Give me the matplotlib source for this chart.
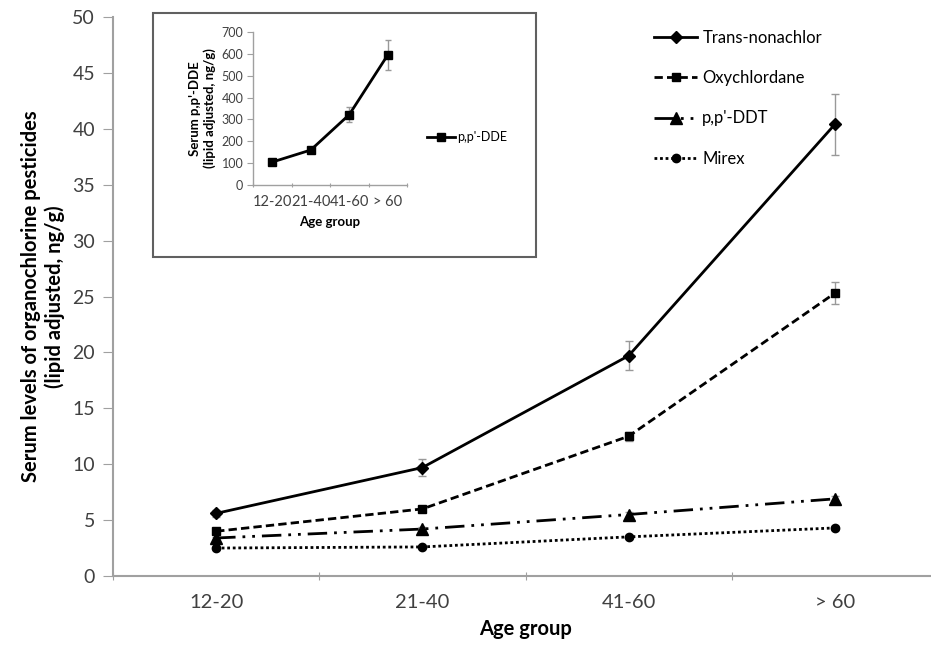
import matplotlib
matplotlib.use("Agg")
import matplotlib.pyplot as plt
from matplotlib.patches import Rectangle

plt.rcParams["font.family"] = ["Lato", "DejaVu Sans"]

# data
age_groups = ["12-20", "21-40", "41-60", "> 60"]

trans_nonachlor = [5.6, 9.7, 19.7, 40.4]
trans_nonachlor_err = [0.3, 0.8, 1.3, 2.7]
oxychlordane = [4.0, 6.0, 12.5, 25.3]
oxychlordane_err = [0.2, 0.3, 0.4, 1.0]
pp_ddt = [3.4, 4.2, 5.5, 6.9]
pp_ddt_err = [0.1, 0.2, 0.2, 0.3]
mirex = [2.5, 2.6, 3.5, 4.3]
mirex_err = [0.1, 0.1, 0.1, 0.2]

pp_dde = [105, 160, 322, 595]
pp_dde_err = [8, 10, 35, 70]

W, H = 931, 648


def px_box(left, top, right, bottom):
    return [left / W, (H - bottom) / H, (right - left) / W, (bottom - top) / H]


fig = plt.figure(figsize=(W / 100, H / 100), dpi=100)

# main panel
ax = fig.add_axes(px_box(113, 17, 938, 576))
x = list(range(len(age_groups)))

series = [
    ("Trans-nonachlor", trans_nonachlor, trans_nonachlor_err, "-", "D", 6),
    ("Oxychlordane", oxychlordane, oxychlordane_err, (0, (3, 1.5)), "s", 6),
    ("p,p'-DDT", pp_ddt, pp_ddt_err, (0, (7, 2.5, 1, 2.5, 1, 2.5)), "^", 8),
    ("Mirex", mirex, mirex_err, (0, (1, 1)), "o", 6),
]
for label, vals, errs, ls, mk, ms in series:
    ax.errorbar(x, vals, yerr=errs, fmt="none", ecolor="#999999",
                elinewidth=1.0, capsize=3, capthick=1.0)
    ax.plot(x, vals, color="black", linestyle=ls, linewidth=2,
            marker=mk, markersize=ms, label=label)

ax.set_xlim(-0.5, 3.5)
ax.set_ylim(0, 50)
ax.set_yticks(range(0, 51, 5))
ax.set_xticks([-0.5, 0.5, 1.5, 2.5])
ax.set_xticklabels([])
ax.set_xticks(x, minor=True)
ax.set_xticklabels(age_groups, minor=True)
ax.tick_params(axis="x", which="minor", length=0, pad=13, labelsize=14.5,
               labelcolor="#404040")
ax.tick_params(axis="x", which="major", length=6, color="#a0a0a0", direction="inout")
ax.tick_params(axis="y", length=7, color="#a0a0a0", labelsize=14, pad=6,
               labelcolor="#404040")
for side in ["top", "right"]:
    ax.spines[side].set_visible(False)
for side in ["left", "bottom"]:
    ax.spines[side].set_color("#a0a0a0")
    ax.spines[side].set_linewidth(1.5)
ax.set_xlabel("Age group", fontsize=14.5, fontweight="bold", labelpad=6)
ax.set_ylabel("Serum levels of organochlorine pesticides\n(lipid adjusted, ng/g)",
              fontsize=14.5, fontweight="bold", labelpad=5)

ax.legend(loc="upper left", bbox_to_anchor=(654 / W, 1 - 30 / H),
          bbox_transform=fig.transFigure, frameon=False, fontsize=12,
          handlelength=2.6, handletextpad=0.3, labelspacing=1.45,
          borderpad=0, borderaxespad=0)

# inset frame
fig.add_artist(Rectangle((153 / W, 1 - 257 / H), (536 - 153) / W, (257 - 13) / H,
                         transform=fig.transFigure, facecolor="white",
                         edgecolor="#606060", linewidth=1.5, zorder=1))

ins = fig.add_axes(px_box(253, 32, 407, 185))
ins.set_zorder(2)
ins.errorbar(x, pp_dde, yerr=pp_dde_err, fmt="none", ecolor="#999999",
             elinewidth=1.0, capsize=2.5, capthick=1.0)
ins.plot(x, pp_dde, color="black", linewidth=2, marker="s", markersize=6,
         label="p,p'-DDE")
ins.set_xlim(-0.5, 3.5)
ins.set_ylim(0, 700)
ins.set_yticks(range(0, 701, 100))
ins.set_xticks([-0.5, 0.5, 1.5, 2.5, 3.5])
ins.set_xticklabels([])
ins.set_xticks(x, minor=True)
ins.set_xticklabels(age_groups, minor=True)
ins.tick_params(axis="x", which="minor", length=0, pad=7, labelsize=10.5,
                labelcolor="#404040")
ins.tick_params(axis="x", which="major", length=3, color="#a0a0a0", direction="inout")
ins.tick_params(axis="y", length=4, color="#a0a0a0", labelsize=9, pad=3,
                labelcolor="#404040")
for side in ["top", "right"]:
    ins.spines[side].set_visible(False)
for side in ["left", "bottom"]:
    ins.spines[side].set_color("#a0a0a0")
    ins.spines[side].set_linewidth(1.0)
ins.set_xlabel("Age group", fontsize=9.5, fontweight="bold", labelpad=5)
ins.set_ylabel("Serum p,p'-DDE\n(lipid adjusted, ng/g)", fontsize=9.5,
               fontweight="bold", labelpad=4)
ins.legend(loc="center left", bbox_to_anchor=(427 / W, 1 - 137 / H),
           bbox_transform=fig.transFigure, frameon=False, fontsize=9,
           handlelength=2.2, handletextpad=0.2, borderpad=0, borderaxespad=0)

fig.savefig("out.png", dpi=100)
plt.close(fig)
